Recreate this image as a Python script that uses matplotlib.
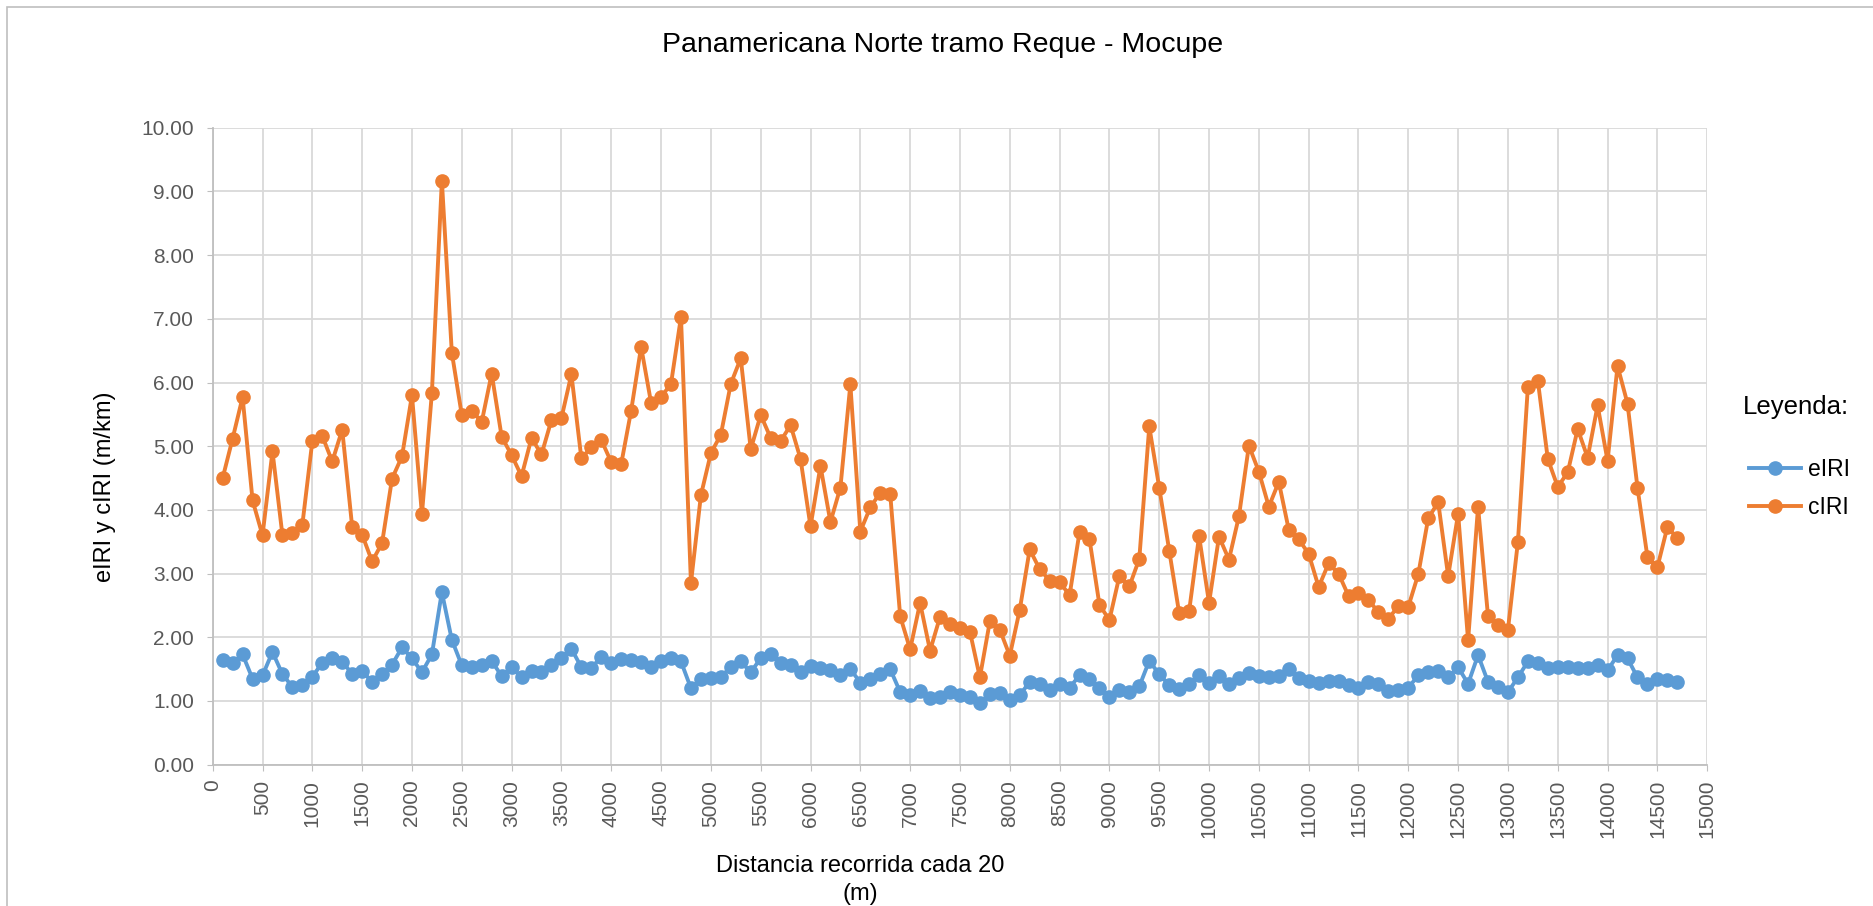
import matplotlib.pyplot as plt
import numpy as np
from matplotlib import font_manager
from matplotlib.patches import Rectangle

# distance along the road, every 100 m
dist = np.arange(100, 14800, 100)

eiri = [1.65, 1.59, 1.73, 1.35, 1.40, 1.77, 1.42, 1.22, 1.25, 1.38,
        1.60, 1.68, 1.61, 1.43, 1.47, 1.30, 1.42, 1.57, 1.84, 1.67,
        1.45, 1.73, 2.71, 1.96, 1.56, 1.54, 1.57, 1.63, 1.39, 1.53,
        1.37, 1.47, 1.45, 1.56, 1.68, 1.82, 1.53, 1.52, 1.69, 1.59,
        1.66, 1.64, 1.61, 1.54, 1.62, 1.67, 1.62, 1.20, 1.34, 1.36,
        1.37, 1.54, 1.62, 1.45, 1.67, 1.74, 1.59, 1.56, 1.46, 1.55,
        1.51, 1.49, 1.40, 1.50, 1.29, 1.34, 1.43, 1.50, 1.14, 1.10,
        1.16, 1.05, 1.06, 1.14, 1.10, 1.07, 0.97, 1.11, 1.12, 1.02,
        1.09, 1.30, 1.27, 1.17, 1.26, 1.21, 1.40, 1.34, 1.21, 1.07,
        1.17, 1.14, 1.23, 1.63, 1.42, 1.25, 1.19, 1.26, 1.40, 1.29,
        1.39, 1.27, 1.36, 1.44, 1.39, 1.37, 1.39, 1.50, 1.36, 1.32,
        1.28, 1.31, 1.31, 1.25, 1.20, 1.30, 1.27, 1.15, 1.18, 1.21,
        1.40, 1.46, 1.47, 1.37, 1.53, 1.27, 1.72, 1.30, 1.22, 1.14,
        1.37, 1.62, 1.60, 1.51, 1.53, 1.53, 1.51, 1.52, 1.57, 1.48,
        1.72, 1.67, 1.37, 1.27, 1.34, 1.33, 1.30]

ciri = [4.50, 5.12, 5.77, 4.15, 3.60, 4.92, 3.60, 3.63, 3.77, 5.08,
        5.16, 4.76, 5.26, 3.73, 3.61, 3.19, 3.48, 4.49, 4.84, 5.80,
        3.93, 5.84, 9.17, 6.47, 5.49, 5.56, 5.38, 6.14, 5.15, 4.86,
        4.53, 5.13, 4.87, 5.41, 5.44, 6.13, 4.81, 4.98, 5.10, 4.75,
        4.72, 5.56, 6.56, 5.68, 5.77, 5.98, 7.03, 2.85, 4.23, 4.89,
        5.18, 5.98, 6.38, 4.95, 5.49, 5.13, 5.08, 5.33, 4.80, 3.74,
        4.69, 3.81, 4.35, 5.97, 3.66, 4.04, 4.27, 4.25, 2.33, 1.81,
        2.54, 1.79, 2.32, 2.21, 2.15, 2.09, 1.37, 2.25, 2.12, 1.71,
        2.43, 3.38, 3.07, 2.89, 2.87, 2.66, 3.65, 3.54, 2.51, 2.27,
        2.96, 2.80, 3.23, 5.31, 4.35, 3.36, 2.38, 2.41, 3.59, 2.54,
        3.58, 3.22, 3.90, 5.01, 4.60, 4.05, 4.44, 3.69, 3.54, 3.31,
        2.79, 3.16, 3.00, 2.65, 2.70, 2.58, 2.40, 2.29, 2.49, 2.48,
        2.99, 3.87, 4.12, 2.96, 3.94, 1.95, 4.05, 2.33, 2.20, 2.12,
        3.50, 5.93, 6.03, 4.80, 4.36, 4.59, 5.27, 4.82, 5.64, 4.77,
        6.26, 5.67, 4.35, 3.26, 3.10, 3.73, 3.56]

xticks = np.arange(0, 15001, 500)
yticks = np.arange(0, 10.01, 1)

plt.rcParams['font.family'] = ['Liberation Sans', 'DejaVu Sans']

# axis titles use a narrow face if there is one
names = {f.name for f in font_manager.fontManager.ttflist}
if 'Liberation Sans Narrow' in names:
    lab_font, lab_size = 'Liberation Sans Narrow', 20
else:
    lab_font, lab_size = 'Liberation Sans', 17

fig = plt.figure(figsize=(18.74, 9.06), dpi=100)
ax = fig.add_axes([0.1135, 0.156, 0.7975, 0.703])

ax.plot(dist, eiri, color='#5B9BD5', lw=2.8, marker='o', ms=9.5, label='eIRI')
ax.plot(dist, ciri, color='#ED7D31', lw=2.8, marker='o', ms=9.5, label='cIRI')

ax.set_xlim(0, 15000)
ax.set_ylim(0, 10)
ax.set_xticks(xticks)
ax.set_xticklabels([str(v) for v in xticks], rotation=90)
ax.set_yticks(yticks)
ax.set_yticklabels(['%.2f' % v for v in yticks])
ax.tick_params(colors='#BFBFBF', labelcolor='#595959', labelsize=15, length=4.3)
ax.tick_params(axis='y', pad=9)
ax.tick_params(axis='x', pad=6.5)
ax.grid(True, color='#D9D9D9', lw=1.3)
ax.set_axisbelow(True)
for s in ['top', 'right']:
    ax.spines[s].set_visible(False)
for s in ['left', 'bottom']:
    ax.spines[s].set_color('#BFBFBF')
    ax.spines[s].set_linewidth(1.3)

fig.text(0.056, 0.4625, 'eIRI y cIRI (m/km)', rotation=90, ha='center', va='center',
         fontsize=lab_size, family=lab_font)
fig.text(0.459, 0.044, 'Distancia recorrida cada 20', ha='center', va='center',
         fontsize=lab_size, family=lab_font)
fig.text(0.459, 0.013, '(m)', ha='center', va='center',
         fontsize=lab_size, family=lab_font)
fig.text(0.503, 0.950, 'Panamericana Norte tramo Reque - Mocupe', ha='center',
         va='center', fontsize=20.5)

# legend title drawn apart so the gap below it matches
fig.text(0.930, 0.551, 'Leyenda:', ha='left', va='center', fontsize=18.5)
ax.legend(loc='upper left', bbox_to_anchor=(0.927, 0.507),
          bbox_transform=fig.transFigure, frameon=False, borderpad=0,
          fontsize=16.5, handlelength=2.3, handletextpad=0.3, labelspacing=0.63)

fig.patches.append(Rectangle((0.004, -0.05), 1.2, 1.042, transform=fig.transFigure,
                             fill=False, edgecolor='#BFBFBF', lw=1.2))

fig.savefig('out.png', dpi=100)
